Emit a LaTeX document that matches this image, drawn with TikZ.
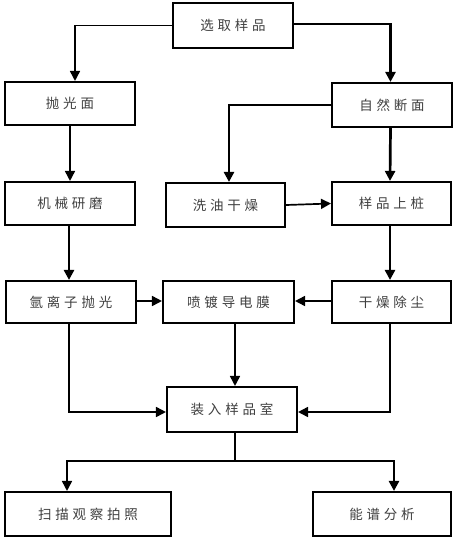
\documentclass[tikz,border=0pt]{standalone}
\usepackage{fontspec}
\newfontfamily\cjk[LetterSpace=28]{Noto Sans CJK SC}
\usetikzlibrary{arrows.meta}
\tikzset{
  box/.style={draw=black, line width=2.1pt, rectangle, inner sep=0pt, fill=white,
    font=\cjk\fontsize{13.5pt}{15pt}\selectfont, text=black!75},
  thin/.style={line width=1.7pt, -{Triangle[length=10pt,width=10pt]}},
  thick/.style={line width=2.7pt, -{Triangle[length=10pt,width=10pt]}},
  plain/.style={line width=1.7pt},
}
\begin{document}
\begin{tikzpicture}[x=1pt,y=-1pt]
\useasboundingbox (0,0) rectangle (458,541);
\node[box, minimum width=120pt, minimum height=45pt] (top) at (233,25.5) {选取样品};
\node[box, minimum width=130pt, minimum height=43pt] (pg) at (70,103.5) {抛光面};
\node[box, minimum width=120pt, minimum height=44pt] (zr) at (392,105) {自然断面};
\node[box, minimum width=130pt, minimum height=43pt] (jx) at (70,203.5) {机械研磨};
\node[box, minimum width=119pt, minimum height=44pt] (xy) at (225.5,205) {洗油干燥};
\node[box, minimum width=119pt, minimum height=43pt] (yp) at (391.5,203.5) {样品上桩};
\node[box, minimum width=130pt, minimum height=42pt] (ar) at (71,302) {氩离子抛光};
\node[box, minimum width=131pt, minimum height=42pt] (pd) at (228.5,302) {喷镀导电膜};
\node[box, minimum width=119pt, minimum height=42pt] (gz) at (391.5,302) {干燥除尘};
\node[box, minimum width=130pt, minimum height=45pt] (zs) at (232,409.5) {装入样品室};
\node[box, minimum width=166pt, minimum height=44pt] (sm) at (88,514) {扫描观察拍照};
\node[box, minimum width=138pt, minimum height=44pt] (np) at (382,514) {能谱分析};

\coordinate (split) at (235,461);

\draw[thin] (top.west) -| ([xshift=5pt]pg.north);
\draw[thick] ([yshift=1.5pt]top.east) -| ([xshift=-1.5pt]zr.north);
\draw[thick] (zr.west) -| ([xshift=3.5pt]xy.north);
\draw[thick] ([xshift=-1.5pt]zr.south) -- ([xshift=-1.5pt]yp.north);
\draw[thin] (pg.south) -- (jx.north);
\draw[thin] (xy.east) -- (yp.west);
\draw[thick] ([xshift=-1pt]jx.south) -- ([xshift=-2pt]ar.north);
\draw[thick] ([xshift=-1.5pt]yp.south) -- ([xshift=-1.5pt]gz.north);
\draw[thin] ([yshift=1pt]ar.east) -- ([yshift=1pt]pd.west);
\draw[thin] ([yshift=1pt]gz.west) -- ([yshift=1pt]pd.east);
\draw[thin] ([xshift=6.5pt]pd.south) -- ([xshift=3pt]zs.north);
\draw[thin] ([xshift=-2pt]ar.south) |- ([yshift=-2.5pt]zs.west);
\draw[thin] ([xshift=-1.5pt]gz.south) |- ([yshift=-2.5pt]zs.east);
\draw[plain] ([xshift=3pt]zs.south) -- (split);
\draw[thin] (split) -| ([xshift=-21pt]sm.north);
\draw[thick] (split) -| ([xshift=12pt]np.north);
\end{tikzpicture}
\end{document}
